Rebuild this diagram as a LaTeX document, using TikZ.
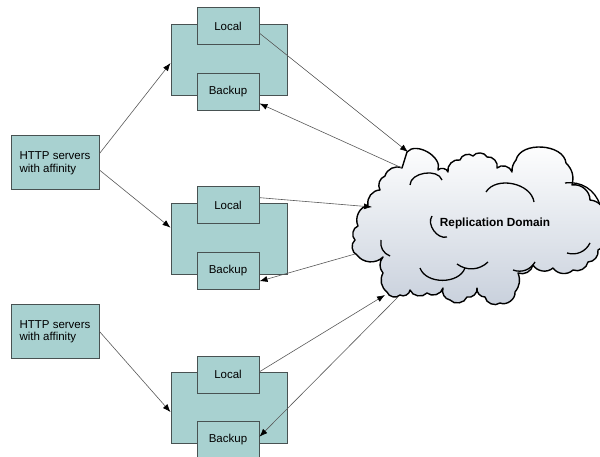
\documentclass[tikz,border=0pt]{standalone}
\usepackage{fontspec}
\setmainfont{Liberation Sans}
\usepackage{tikz}
\usetikzlibrary{arrows.meta,positioning,calc}
\definecolor{boxteal}{RGB}{168,209,208}
\definecolor{boxline}{RGB}{72,82,82}
\definecolor{cloudgray}{RGB}{200,208,220}

\begin{document}
\begin{tikzpicture}[x=1pt,y=-1pt,
    outerbox/.style={draw=boxline, line width=1pt, fill=boxteal, minimum width=116pt, minimum height=71pt, inner sep=0pt},
    innerbox/.style={draw=boxline, line width=1pt, fill=boxteal, minimum width=62pt, minimum height=37pt, inner sep=0pt, font=\fontsize{11.5}{13}\selectfont},
    httpbox/.style={draw=boxline, line width=1pt, fill=boxteal, minimum width=88pt, minimum height=54pt, inner sep=0pt, align=left, font=\fontsize{11.5}{12.5}\selectfont},
    link/.style={draw=black!65, line width=0.6pt, -{Latex[black,length=8pt,width=6pt]}},
    cloudline/.style={draw=black, line width=1.4pt, line join=round},
    puff/.style={black, line width=1.3pt}
  ]
    \useasboundingbox (0,0) rectangle (600,457);

    % Cloud
    \path[cloudline, top color=white, middle color=white, bottom color=cloudgray]
      (357,255) to[bend left=60] (355,240) to[bend left=60] (358,226)
      to[bend left=50] (368,205) to[bend left=50] (380,190) to[bend left=50] (385,176)
      to[bend left=50] (402,168) -- (407,152) to[bend left=80] (438,170)
      to[bend left=60] (448,172) to[bend left=60] (460,160) to[bend left=60] (473,156)
      to[bend left=60] (487,157) to[bend left=60] (497,168) to[bend left=60] (512,172)
      to[bend left=20] (516,160) to[bend left=80] (566,163) to[bend left=30] (572,185)
      to[bend left=50] (590,200) to[bend left=50] (606,222) to[bend left=50] (598,250)
      to[bend left=50] (588,262) to[bend left=50] (573,270) to[bend left=50] (553,268)
      to[bend left=50] (533,265) to[bend left=50] (518,273) to[bend left=30] (515,292)
      to[bend left=60] (500,303) to[bend left=60] (485,297) to[bend left=50] (477,288)
      to[bend left=60] (467,297) to[bend left=60] (450,300) to[bend left=50] (443,288)
      to[bend left=60] (427,293) to[bend left=60] (410,290) to[bend left=60] (400,295)
      to[bend left=60] (387,292) to[bend left=40] (383,273) to[bend left=40] (383,257)
      to[bend left=50] (357,255) -- cycle;
    \draw[puff] (410,185) to[bend left=80] (442,180);
    \draw[puff] (486,192) to[bend left=70] (534,202);
    \draw[puff] (565,183) to[bend left=40] (600,205);
    \draw[puff] (432,216) to[bend right=70] (447,237);
    \draw[puff] (381,240) to[bend right=40] (390,256);
    \draw[puff] (420,268) to[bend right=70] (465,268);
    \draw[puff] (457,264) to[bend right=40] (488,262);
    \draw[puff] (513,270) to[bend right=40] (535,262);
    \draw[puff] (567,253) to[bend right=40] (590,243);
    \node[font=\bfseries\fontsize{11.8}{13}\selectfont] (repl) at (495,223) {Replication Domain};

    % Points on the cloud
    \coordinate (inA) at (408,152);
    \coordinate (outA) at (402,168);
    \coordinate (inB) at (372,207);
    \coordinate (outB) at (355,254);
    \coordinate (inC) at (385,295);
    \coordinate (outC) at (398,297);

    % Server groups
    \foreach \n/\y in {A/60,B/239,C/408} {
      \node[outerbox] (srv\n) at (229,\y) {};
      \node[innerbox] (loc\n) at (228,\y-33.5) {Local};
      \node[innerbox] (bak\n) at (228,\y+32) {Backup};
    }

    % HTTP servers
    \node[httpbox] (httpA) at (55,163) {HTTP servers\\with affinity};
    \node[httpbox] (httpB) at (55,331.5) {HTTP servers\\with affinity};

    % Links
    \draw[link] (httpA.12) -- (srvA.183);
    \draw[link] (httpA.-9) -- (srvB.169);
    \draw[link] (httpB.east) -- (srvC.184);
    \draw[link] (locA.-12) -- (inA);
    \draw[link] (outA) -- (bakA.-20);
    \draw[link] (locB.14) -- (inB);
    \draw[link] (outB) -- (bakB.-18);
    \draw[link] (locC.5) -- (inC);
    \draw[link] (outC) -- (bakC.6);
\end{tikzpicture}
\end{document}
